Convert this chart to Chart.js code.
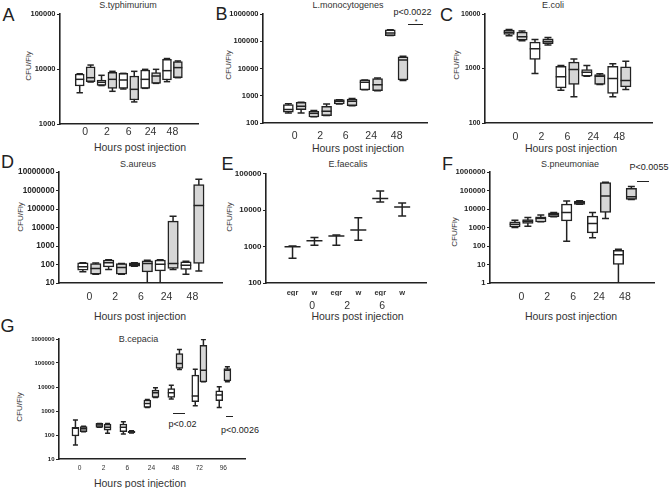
<!DOCTYPE html>
<html>
<head>
<meta charset="utf-8">
<script src="https://cdn.jsdelivr.net/npm/chart.js@4.4.1/dist/chart.umd.min.js"></script>
<style>
  body { margin: 0; width: 669px; height: 488px; position: relative; overflow: hidden; background: #fff;
         font-family: "Liberation Sans", Arial, sans-serif; color: #222; }
  canvas { position: absolute; }
  .c { position: absolute; transform: translate(-50%, -50%); white-space: nowrap; line-height: 1; font-weight: normal; }
  .r { transform: translate(-50%, -50%) rotate(-90deg); }
  .L { font-size: 18px; }
  .T { font-size: 9px; color: #333; }
  .Y { font-size: 8px; color: #333; }
  .X { font-size: 10.5px; color: #333; }
  .P { font-size: 9px; }
  .bar { position: absolute; height: 0; border-top: 1px solid #222; }
</style>
</head>
<body>

<!-- panel letters -->
<div class="c L" style="left:8.5px;top:15px">A</div>
<div class="c L" style="left:221.5px;top:14px">B</div>
<div class="c L" style="left:446.5px;top:14.5px">C</div>
<div class="c L" style="left:7.5px;top:162px">D</div>
<div class="c L" style="left:227.5px;top:163.5px">E</div>
<div class="c L" style="left:447.5px;top:164px">F</div>
<div class="c L" style="left:7.5px;top:325.5px">G</div>

<!-- titles -->
<div class="c T" style="left:128px;top:5px">S.typhimurium</div>
<div class="c T" style="left:348px;top:5px">L.monocytogenes</div>
<div class="c T" style="left:553px;top:5px">E.coli</div>
<div class="c T" style="left:138px;top:164px">S.aureus</div>
<div class="c T" style="left:348px;top:164px">E.faecalis</div>
<div class="c T" style="left:570px;top:164px">S.pneumoniae</div>
<div class="c T" style="left:138.5px;top:339px">B.cepacia</div>

<!-- y titles -->
<div class="c r Y" style="left:29px;top:66px">CFU/Fly</div>
<div class="c r Y" style="left:229px;top:65px">CFU/Fly</div>
<div class="c r Y" style="left:457px;top:65px">CFU/Fly</div>
<div class="c r Y" style="left:21px;top:217px">CFU/Fly</div>
<div class="c r Y" style="left:230px;top:217px">CFU/Fly</div>
<div class="c r Y" style="left:455px;top:232px">CFU/Fly</div>
<div class="c r Y" style="left:20px;top:407px">CFU/Fly</div>

<!-- x titles -->
<div class="c X" style="left:140px;top:147px">Hours post injection</div>
<div class="c X" style="left:358px;top:147.5px">Hours post injection</div>
<div class="c X" style="left:571px;top:147.5px">Hours post injection</div>
<div class="c X" style="left:140px;top:316px">Hours post injection</div>
<div class="c X" style="left:357.5px;top:315.5px">Hours post injection</div>
<div class="c X" style="left:571px;top:316px">Hours post injection</div>
<div class="c X" style="left:140px;top:482.5px">Hours post injection</div>

<!-- significance -->
<div class="c P" style="left:412.5px;top:12px">p&lt;0.0022</div>
<div class="bar" style="left:408px;top:24px;width:15px"></div>
<div class="c P" style="left:416px;top:21px;font-size:7px">*</div>
<div class="c P" style="left:649px;top:167px">P&lt;0.0055</div>
<div class="bar" style="left:637px;top:181px;width:12px"></div>
<div class="bar" style="left:173px;top:413px;width:12px"></div>
<div class="c P" style="left:182.5px;top:424px">p&lt;0.02</div>
<div class="bar" style="left:226px;top:416px;width:7px"></div>
<div class="c P" style="left:240px;top:430px">p&lt;0.0026</div>

<script>
const INK = '#222';
const GREY = '#d6d6d6';
const FONT = '"Liberation Sans", Arial, sans-serif';

// hour groups (tick labels)
const hours5 = ['0', '2', '6', '24', '48'];
const hours3 = ['0', '2', '6'];
const hours7 = ['0', '2', '6', '24', '48', '72', '96'];
const strainE = ['egr', 'w', 'egr', 'w', 'egr', 'w'];

// A  S.typhimurium (box: min, q1, median, q3, max)
const typhiMin = [3700, 5800, 5000, 3930, 4330, 2520, 4450, 5480, 5890, 6950];
const typhiQ1  = [4910, 5890, 5050, 4450, 4450, 2730, 4450, 5480, 6310, 6950];
const typhiMed = [6490, 6950, 5730, 6490, 6310, 4270, 6490, 7460, 9330, 10600];
const typhiQ3  = [8110, 11000, 6310, 8700, 8340, 7460, 9590, 8580, 15000, 13600];
const typhiMax = [8200, 11800, 7680, 9070, 8340, 9070, 9860, 9860, 15500, 14000];

// B  L.monocytogenes
const listMin = [234, 234, 168, 187, 498, 433, 1650, 1520, 161000, 3600];
const listQ1  = [250, 310, 168, 187, 498, 433, 1650, 1520, 161000, 3820];
const listMed = [310, 409, 221, 269, 622, 622, 3140, 2510, 200000, 20300];
const listQ3  = [471, 572, 269, 409, 716, 756, 3820, 4270, 265000, 26900];
const listMax = [512, 572, 290, 498, 716, 800, 3820, 4500, 265000, 28000];

// C  E.coli
const coliMin = [4000, 3220, 810, 2700, 400, 302, 723, 508, 302, 412];
const coliQ1  = [4210, 3310, 1460, 2840, 442, 508, 723, 508, 348, 461];
const coliMed = [4640, 3810, 2300, 3130, 703, 958, 856, 723, 655, 602];
const coliQ3  = [5050, 4640, 3040, 3500, 1100, 1310, 958, 776, 1100, 1070];
const coliMax = [5200, 4900, 3400, 3700, 1130, 1500, 1130, 800, 1220, 1360];

// D  S.aureus
const aurMin = [40, 30, 54, 30, 81, 10, 10, 54, 30, 45];
const aurQ1  = [49, 30, 75, 30, 81, 40, 45, 61, 54, 113];
const aurMed = [75, 61, 123, 69, 100, 113, 104, 113, 92, 155000];
const aurQ3  = [123, 113, 171, 113, 123, 158, 171, 22000, 139, 2100000];
const aurMax = [123, 120, 180, 113, 123, 171, 180, 40700, 150, 4070000];

// E  E.faecalis (mean with range)
const faecMean = [980, 1430, 1950, 2850, 20800, 12100];
const faecLow  = [480, 1090, 1090, 1490, 16500, 6860];
const faecHigh = [1040, 1760, 2080, 6180, 32900, 15500];

// F  S.pneumoniae
const pneuMin = [1000, 1180, 2030, 3800, 181, 17800, 275, 3090, 1, 33000];
const pneuQ1  = [1090, 1650, 2030, 3800, 2300, 17800, 513, 6530, 10, 33000];
const pneuMed = [1520, 2210, 3090, 5090, 6530, 21900, 1650, 50600, 34, 46400];
const pneuQ3  = [2030, 2720, 3800, 6260, 18500, 27000, 4130, 268000, 58, 132000];
const pneuMax = [2500, 3500, 4680, 6500, 27000, 28000, 6530, 280000, 66, 162000];

// G  B.cepacia
const cepMin = [38, 138, 208, 117, 110, 120, 1410, 3670, 3130, 53000, 1650, 16400, 1410, 16400];
const cepQ1  = [91, 138, 208, 160, 138, 125, 1410, 3670, 3670, 58800, 2430, 16400, 2670, 18000];
const cepMed = [189, 180, 260, 208, 208, 138, 2060, 5700, 5700, 95000, 4180, 50000, 4600, 50000];
const cepQ3  = [208, 222, 305, 286, 286, 146, 2850, 7400, 8690, 247000, 31100, 550000, 6950, 58800];
const cepMax = [420, 230, 305, 300, 358, 150, 3040, 9270, 11900, 364000, 55000, 944000, 10200, 69000];

const pow10 = (a, b) => { const t = []; for (let e = a; e <= b; e++) t.push(Math.pow(10, e)); return t; };

function boxSets(xs, lo, q1, med, q3, hi, barW, capR) {
  const whisk = [];
  xs.forEach((x, i) => whisk.push({ x, y: lo[i] }, { x, y: hi[i] }, { x, y: null }));
  return [
    { type: 'line', data: whisk, borderColor: INK, borderWidth: 1.5, pointRadius: 0, spanGaps: false, order: 3 },
    { type: 'bar', data: xs.map((x, i) => ({ x, y: [q1[i], q3[i]] })),
      backgroundColor: xs.map((x, i) => i % 2 ? GREY : '#fff'),
      borderColor: INK, borderWidth: 1.5, borderSkipped: false, barThickness: barW, order: 2 },
    { type: 'scatter', data: xs.flatMap((x, i) => [{ x, y: lo[i] }, { x, y: hi[i] }]),
      pointStyle: 'line', pointRadius: capR, pointBorderColor: INK, borderColor: INK, pointBorderWidth: 1.5, order: 1 },
    { type: 'scatter', data: xs.map((x, i) => ({ x, y: med[i] })),
      pointStyle: 'line', pointRadius: barW / 2, pointBorderColor: INK, borderColor: INK, pointBorderWidth: 1.5, order: 0 }
  ];
}

function panel(p) {
  const yW = 48, padT = 8, padR = 4;
  const cv = document.createElement('canvas');
  cv.width = Math.round(yW + (p.R - p.L) + padR);
  cv.height = Math.round(padT + (p.B - p.T) + p.xH);
  cv.style.left = (p.L - yW) + 'px';
  cv.style.top = (p.T - padT) + 'px';
  document.body.appendChild(cv);

  const scales = {
    x: {
      type: 'linear', min: p.xMin, max: p.xMax,
      afterBuildTicks: s => { s.ticks = p.xTicks.map(v => ({ value: v })); },
      afterFit: s => { s.height = p.x2 ? p.x2H : p.xH; },
      grid: { display: false, drawTicks: false },
      border: { display: true, color: INK, width: 1.6 },
      ticks: { autoSkip: false, maxRotation: 0, padding: p.xPad, color: '#333',
               font: { family: FONT, size: p.xFont, weight: p.xBold ? 'bold' : 'normal' },
               callback: (v, i) => p.xLabels[i] }
    },
    y: {
      type: 'logarithmic', min: p.yTicks[0], max: p.yTicks[p.yTicks.length - 1],
      afterBuildTicks: s => { s.ticks = p.yTicks.map(v => ({ value: v })); },
      afterFit: s => { s.width = yW; },
      grid: { drawOnChartArea: false, drawTicks: true, tickLength: 3, color: INK, lineWidth: 1 },
      border: { display: true, color: INK, width: 1.6 },
      ticks: { autoSkip: false, padding: 1.5, color: INK,
               font: { family: FONT, size: p.yFont, weight: 'bold' },
               callback: v => String(v) }
    }
  };
  if (p.x2) {
    scales.x2 = {
      type: 'linear', position: 'bottom', min: p.xMin, max: p.xMax, weight: 1,
      afterBuildTicks: s => { s.ticks = p.x2.ticks.map(v => ({ value: v })); },
      afterFit: s => { s.height = p.xH - p.x2H; },
      grid: { display: false, drawTicks: false },
      border: { display: false },
      ticks: { autoSkip: false, maxRotation: 0, padding: p.x2.pad, color: '#333',
               font: { family: FONT, size: p.x2.font }, callback: (v, i) => p.x2.labels[i] }
    };
  }

  new Chart(cv, {
    type: 'bar',
    data: { datasets: p.datasets },
    options: {
      responsive: false, animation: false, events: [],
      layout: { padding: { top: padT, right: padR, left: 0, bottom: 0 } },
      plugins: { legend: { display: false }, tooltip: { enabled: false } },
      scales
    }
  });
}

const ten = [1, 2, 3, 4, 5, 6, 7, 8, 9, 10];
const pairMid = [1.5, 3.5, 5.5, 7.5, 9.5];
const cepX = hours7.flatMap((h, g) => [g + 1 - 0.17, g + 1 + 0.17]);

panel({ L: 60, R: 200, T: 14, B: 124, xH: 22, xMin: 0.458, xMax: 10.58, xTicks: pairMid, xLabels: hours5,
        xFont: 10.5, xPad: 2, yTicks: pow10(3, 5), yFont: 7.5,
        datasets: boxSets(ten, typhiMin, typhiQ1, typhiMed, typhiQ3, typhiMax, 9, 3.2) });

panel({ L: 263, R: 430, T: 14, B: 123, xH: 24, xMin: 0.30, xMax: 10.63, xTicks: pairMid, xLabels: hours5,
        xFont: 10.5, xPad: 7, yTicks: pow10(2, 6), yFont: 7.5,
        datasets: boxSets(ten, listMin, listQ1, listMed, listQ3, listMax, 10, 3.5) });

panel({ L: 485, R: 655, T: 14, B: 123, xH: 24, xMin: 0.436, xMax: 10.75, xTicks: pairMid, xLabels: hours5,
        xFont: 10.5, xPad: 8, yTicks: pow10(2, 4), yFont: 7,
        datasets: boxSets(ten, coliMin, coliQ1, coliMed, coliQ3, coliMax, 10.5, 3.5) });

panel({ L: 59, R: 225, T: 172, B: 283, xH: 24, xMin: 0.415, xMax: 10.55, xTicks: pairMid, xLabels: hours5,
        xFont: 10.5, xPad: 8, yTicks: pow10(1, 7), yFont: 8.2,
        datasets: boxSets(ten, aurMin, aurQ1, aurMed, aurQ3, aurMax, 10.5, 3.5) });

const six = [1, 2, 3, 4, 5, 6];
const faecWhisk = [];
six.forEach((x, i) => faecWhisk.push({ x, y: faecLow[i] }, { x, y: faecHigh[i] }, { x, y: null }));
panel({ L: 266, R: 432, T: 172, B: 283, xH: 31, x2H: 13, xMin: 0.4, xMax: 6.5, xTicks: six, xLabels: strainE,
        xFont: 7.5, xBold: true, xPad: 5, yTicks: pow10(2, 5), yFont: 8,
        x2: { ticks: [1.5, 3.5, 5.5], labels: hours3, font: 10.5, pad: 3.5 },
        datasets: [
          { type: 'line', data: faecWhisk, borderColor: INK, borderWidth: 1.5, pointRadius: 0, spanGaps: false },
          { type: 'scatter', data: six.flatMap((x, i) => [{ x, y: faecLow[i] }, { x, y: faecHigh[i] }]),
            pointStyle: 'line', pointRadius: 4, pointBorderColor: INK, borderColor: INK, pointBorderWidth: 1.5 },
          { type: 'scatter', data: six.map((x, i) => ({ x, y: faecMean[i] })),
            pointStyle: 'line', pointRadius: 8, pointBorderColor: INK, borderColor: INK, pointBorderWidth: 1.5 }
        ] });

panel({ L: 490, R: 657, T: 172, B: 283, xH: 24, xMin: 0.342, xMax: 10.5, xTicks: pairMid, xLabels: hours5,
        xFont: 10.5, xPad: 8, yTicks: pow10(0, 6), yFont: 7.7,
        datasets: boxSets(ten, pneuMin, pneuQ1, pneuMed, pneuQ3, pneuMax, 10.5, 3.5) });

panel({ L: 59, R: 247, T: 339, B: 459, xH: 16, xMin: 0.70, xMax: 7.37, xTicks: [1, 2, 3, 4, 5, 6, 7], xLabels: hours7,
        xFont: 6.6, xPad: 5, yTicks: pow10(1, 6), yFont: 6,
        datasets: boxSets(cepX, cepMin, cepQ1, cepMed, cepQ3, cepMax, 7, 2.5) });
</script>
</body>
</html>
